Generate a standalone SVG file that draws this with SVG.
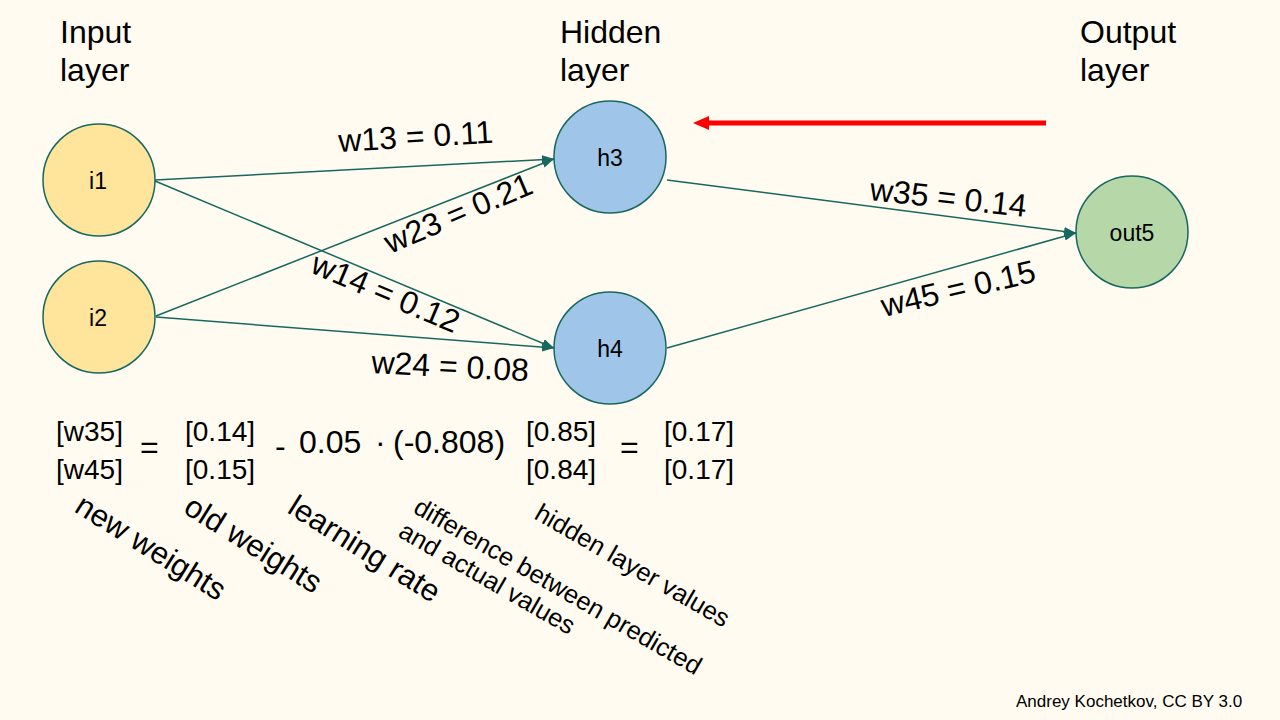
<svg xmlns="http://www.w3.org/2000/svg" width="1280" height="720" viewBox="0 0 1280 720">
<defs>
<marker id="ah" markerUnits="userSpaceOnUse" markerWidth="14" markerHeight="10" refX="12" refY="4.5" orient="auto">
<path d="M0,0 L12,4.5 L0,9 z" fill="#17685f"/>
</marker>
<marker id="rah" markerUnits="userSpaceOnUse" markerWidth="18" markerHeight="16" refX="4" refY="7" orient="auto">
<path d="M0,0 L16,7 L0,14 z" fill="#ff0000"/>
</marker>
</defs>
<style>
text{font-family:"Liberation Sans",Arial,sans-serif;fill:#000}
.title{font-size:32px}
.nlab{font-size:23px;text-anchor:middle}
.w{font-size:32px}
.eq{font-size:28px}
.big{font-size:32px}
.ann{font-size:31px}
.ann2{font-size:25.5px}
.credit{font-size:17px}
.node{stroke:#17685f;stroke-width:1.5}
.conn{stroke:#17685f;stroke-width:1.5;fill:none;marker-end:url(#ah)}
</style>
<rect width="1280" height="720" fill="#fffbf0"/>

<g id="titles">
<text class="title" x="60" y="43">Input</text>
<text class="title" x="60" y="81">layer</text>
<text class="title" x="560" y="43">Hidden</text>
<text class="title" x="560" y="81">layer</text>
<text class="title" x="1080" y="43">Output</text>
<text class="title" x="1080" y="81">layer</text>
</g>

<g id="connectors">
<line class="conn" x1="155" y1="180" x2="554" y2="159"/>
<line class="conn" x1="155" y1="181" x2="554" y2="348"/>
<line class="conn" x1="156" y1="316" x2="554" y2="159"/>
<line class="conn" x1="156" y1="317" x2="554" y2="348"/>
<line class="conn" x1="667" y1="180" x2="1076" y2="233"/>
<line class="conn" x1="667" y1="348" x2="1076" y2="233"/>
<line x1="1046" y1="123" x2="705" y2="123" stroke="#ff0000" stroke-width="5" marker-end="url(#rah)"/>
</g>

<g id="i1"><circle class="node" cx="99" cy="180" r="56" fill="#fee59b"/><text class="nlab" x="98" y="189">i1</text></g>
<g id="i2"><circle class="node" cx="99" cy="317" r="56" fill="#fee59b"/><text class="nlab" x="98" y="326">i2</text></g>
<g id="h3"><circle class="node" cx="610" cy="157" r="56" fill="#9fc5e8"/><text class="nlab" x="610" y="166">h3</text></g>
<g id="h4"><circle class="node" cx="610" cy="348" r="56" fill="#9fc5e8"/><text class="nlab" x="610" y="357">h4</text></g>
<g id="out5"><circle class="node" cx="1132" cy="232" r="56" fill="#b6d7a8"/><text class="nlab" x="1132" y="241">out5</text></g>

<g id="weights">
<text class="w" transform="translate(339,152) rotate(-3.4)">w13 = 0.11</text>
<text class="w" transform="translate(390,254) rotate(-23)">w23 = 0.21</text>
<text class="w" transform="translate(309,272) rotate(23)">w14 = 0.12</text>
<text class="w" transform="translate(371,373) rotate(3)">w24 = 0.08</text>
<text class="w" transform="translate(869,200) rotate(6.2)">w35 = 0.14</text>
<text class="w" transform="translate(884,317) rotate(-13.1)">w45 = 0.15</text>
</g>

<g id="equation">
<text class="eq" x="56" y="441">[w35]</text>
<text class="eq" x="56" y="479">[w45]</text>
<text class="big" x="140" y="458">=</text>
<text class="eq" x="185" y="441">[0.14]</text>
<text class="eq" x="185" y="479">[0.15]</text>
<text class="big" x="275" y="457">-</text>
<text class="big" x="299" y="453">0.05</text>
<text class="big" x="375" y="453">·</text>
<text class="big" x="393" y="453">(-0.808)</text>
<text class="eq" x="526" y="441">[0.85]</text>
<text class="eq" x="526" y="479">[0.84]</text>
<text class="big" x="620" y="458">=</text>
<text class="eq" x="664" y="441">[0.17]</text>
<text class="eq" x="664" y="479">[0.17]</text>
</g>

<g id="annotations">
<text class="ann" transform="translate(73,511) rotate(32)">new weights</text>
<text class="ann" transform="translate(182,512) rotate(32)">old weights</text>
<text class="ann" transform="translate(286,512) rotate(32)">learning rate</text>
<text class="ann2" transform="translate(412,512) rotate(30)">difference between predicted</text>
<text class="ann2" transform="translate(397,536) rotate(30)">and actual values</text>
<text class="ann2" transform="translate(533,518) rotate(30)">hidden layer values</text>
</g>

<text class="credit" x="1016" y="707">Andrey Kochetkov, CC BY 3.0</text>
</svg>
